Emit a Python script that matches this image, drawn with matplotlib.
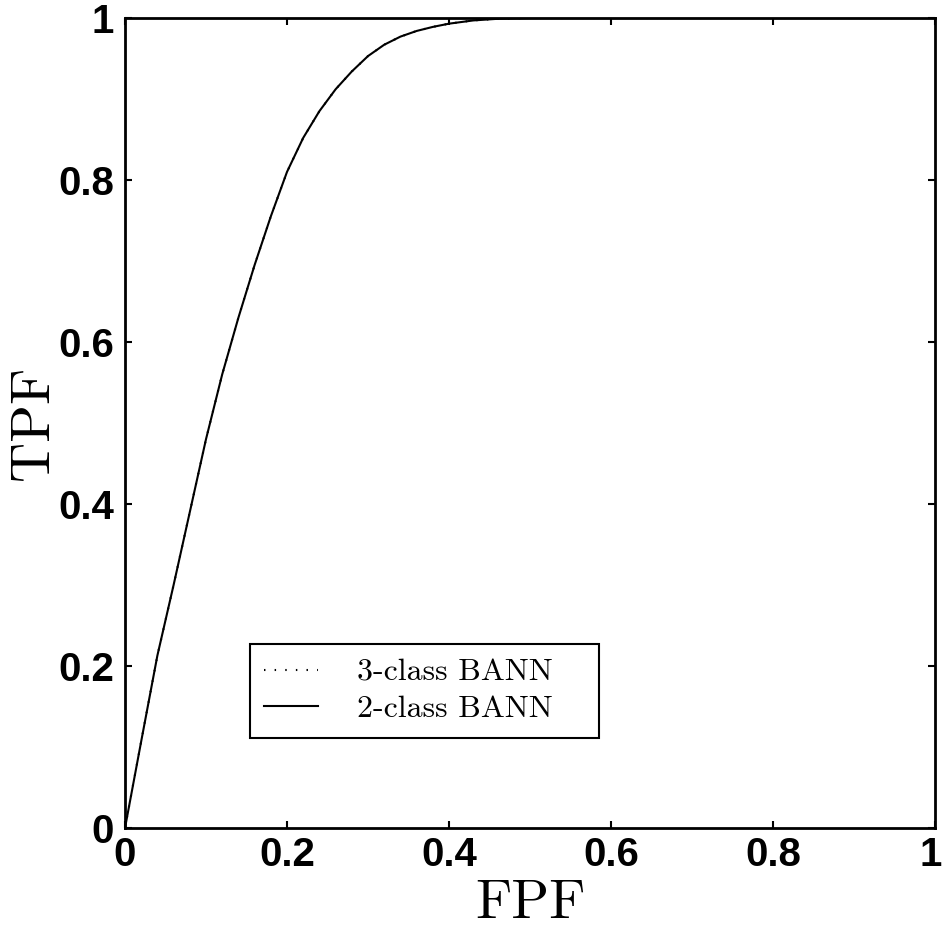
import matplotlib
matplotlib.use("Agg")
import matplotlib.pyplot as plt
import matplotlib.transforms as mtransforms

# ROC curve (both classifiers overlap)
fpf = [0, 0.02, 0.04, 0.06, 0.08, 0.10, 0.12, 0.14, 0.16, 0.18, 0.20, 0.22, 0.24,
       0.26, 0.28, 0.30, 0.32, 0.34, 0.36, 0.38, 0.40, 0.43, 0.46, 0.50, 0.60, 0.80, 1.0]
tpf_2class = [0, 0.107, 0.213, 0.30, 0.39, 0.48, 0.56, 0.63, 0.695, 0.755, 0.81, 0.852, 0.885,
              0.912, 0.934, 0.953, 0.967, 0.977, 0.984, 0.989, 0.993, 0.997, 0.999, 1.0, 1.0, 1.0, 1.0]
tpf_3class = list(tpf_2class)
ticks = [0, 0.2, 0.4, 0.6, 0.8, 1]
tick_labels = ["0", "0.2", "0.4", "0.6", "0.8", "1"]

fig = plt.figure(figsize=(9.43, 9.30), dpi=100)
ax = fig.add_axes([125 / 943, 102 / 930, 810 / 943, 810 / 930])

ax.plot(fpf, tpf_3class, color="black", linestyle=(0, (0.7, 4.4)), linewidth=1.5,
        label="3-class BANN   ")
ax.plot(fpf, tpf_2class, color="black", linestyle="-", linewidth=1.5, label="2-class BANN   ")

ax.set_xlim(0, 1)
ax.set_ylim(0, 1)
ax.set_xticks(ticks)
ax.set_yticks(ticks)
ax.set_xticklabels(tick_labels, fontfamily="Liberation Sans", fontweight="bold", fontsize=29)
ax.set_yticklabels(tick_labels, fontfamily="Liberation Sans", fontweight="bold", fontsize=29)
ax.tick_params(direction="in", length=5, width=1.5, top=True, right=True)
ax.tick_params(axis="x", pad=6)
ax.tick_params(axis="y", pad=8)
for s in ax.spines.values():
    s.set_linewidth(2)

# keep the last x label inside the figure edge
last = ax.get_xticklabels()[-1]
last.set_transform(last.get_transform() + mtransforms.ScaledTranslation(-4 / 100, 0, fig.dpi_scale_trans))

ax.set_xlabel("FPF", fontfamily="cmr10", fontsize=40, labelpad=4)
ax.set_ylabel("TPF", fontfamily="cmr10", fontsize=40, labelpad=-1)

leg = ax.legend(loc="upper left", bbox_to_anchor=(0.154, 0.227), borderaxespad=0,
                prop={"family": "cmr10", "size": 23}, fancybox=False,
                edgecolor="black", framealpha=1, handlelength=1.7,
                handletextpad=1.2, labelspacing=0.25, borderpad=0.45)
leg.get_frame().set_linewidth(1.5)

fig.savefig("out.png", dpi=100)
